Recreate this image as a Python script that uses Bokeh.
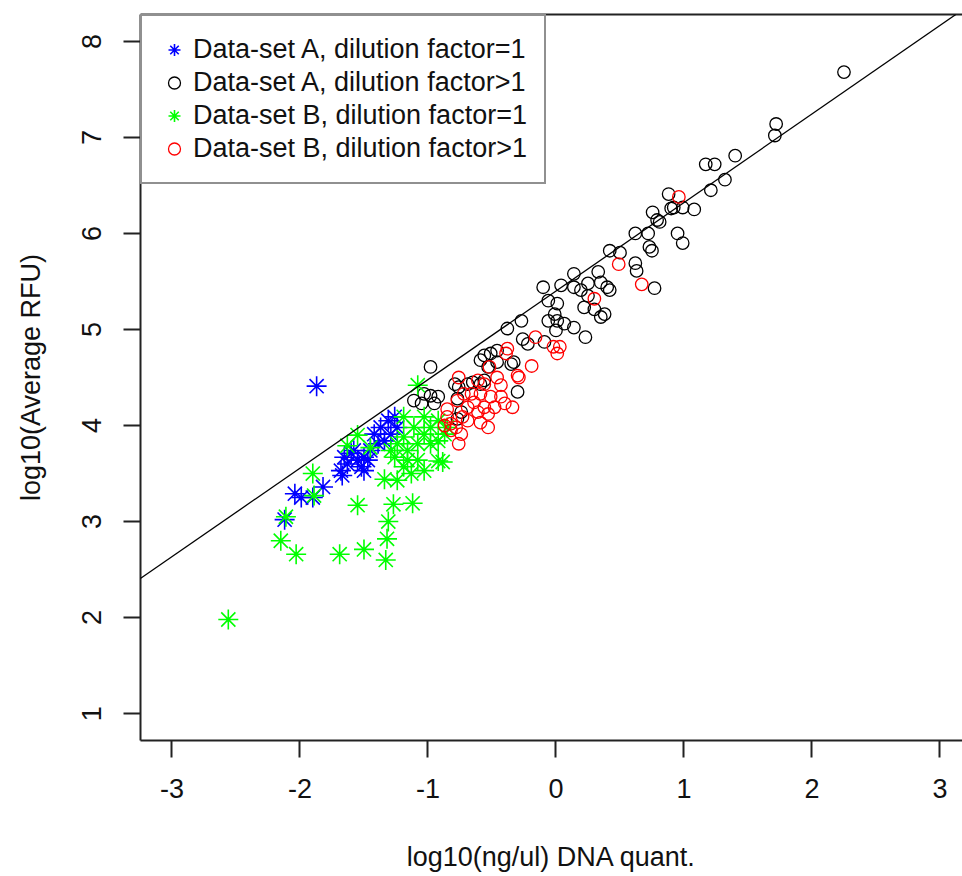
from bokeh.plotting import figure
from bokeh.models import (FixedTicker, LinearAxis, Legend, LegendItem, Slope, Range1d)
from bokeh.embed import file_html
from bokeh.resources import INLINE

# ---------------- data ----------------
# Data-set A, dilution factor = 1  (blue asterisks)
a1_x = [-1.87, -1.67, -1.82, -2.04, -1.99, -1.90, -2.12,
        -1.654, -1.60, -1.55, -1.50, -1.63, -1.52, -1.47, -1.45, -1.39, -1.34,
        -1.42, -1.37, -1.31, -1.26, -1.29, -1.24, -1.50, -1.58, -1.68]
a1_y = [4.41, 3.48, 3.36, 3.29, 3.25, 3.25, 3.02,
        3.67, 3.71, 3.64, 3.67, 3.60, 3.57, 3.64, 3.74, 3.81, 3.84,
        3.91, 3.98, 4.05, 4.09, 3.91, 3.98, 3.53, 3.74, 3.53]

# Data-set A, dilution factor > 1  (black circles)
a2_x = [2.25, 1.72, 1.71, 1.40, 1.17, 1.24, 1.32, 1.21, 0.88, 0.90, 0.92, 0.99,
        1.08, 0.755, 0.79, 0.81, 0.62, 0.72, 0.73, 0.75, 0.95, 0.99, 0.42, 0.50,
        0.62, 0.63, 0.77, 0.38,
        -0.98, -0.10, 0.04, 0.14, 0.33, 0.14, 0.195, 0.25, 0.35, 0.40, 0.42, 0.25,
        0.22, 0.30, 0.35, -0.06, 0.01, -0.01, -0.06, 0.01, 0.065, 0.14, 0.0, 0.23,
        -0.27, -0.38, -0.26, -0.22, -0.56, -0.51, -0.46, -0.59, -0.46, -0.53,
        -0.35, -0.33, -0.09, -0.30, -0.79, -0.76, -0.69, -0.65, -0.77, -0.59,
        -0.56, -0.98, -0.92, -1.03, -1.11, -1.05, -0.95, -0.77, -0.74]
a2_y = [7.68, 7.14, 7.02, 6.81, 6.72, 6.72, 6.56, 6.45, 6.41, 6.26, 6.27, 6.27,
        6.25, 6.22, 6.14, 6.12, 6.00, 6.00, 5.86, 5.82, 6.00, 5.90, 5.82, 5.80,
        5.69, 5.61, 5.43, 5.16,
        4.61, 5.44, 5.46, 5.58, 5.60, 5.44, 5.41, 5.48, 5.49, 5.44, 5.41, 5.35,
        5.23, 5.21, 5.13, 5.30, 5.27, 5.16, 5.09, 5.09, 5.06, 5.02, 4.99, 4.92,
        5.09, 5.01, 4.90, 4.85, 4.73, 4.75, 4.78, 4.68, 4.66, 4.61,
        4.64, 4.66, 4.87, 4.35, 4.43, 4.40, 4.43, 4.45, 4.28, 4.43,
        4.47, 4.31, 4.30, 4.33, 4.26, 4.23, 4.23, 4.07, 4.14]

# Data-set B, dilution factor = 1  (green asterisks)
b1_x = [-2.56, -2.15, -2.03, -2.11, -1.90, -1.89, -1.69, -1.50, -1.33, -1.32,
        -1.31, -1.55, -1.27, -1.12, -1.34, -1.24, -1.19, -1.13, -1.03, -0.885,
        -1.08, -1.55, -1.63, -1.45,
        -1.24, -1.16, -1.08, -1.03, -0.98, -0.92, -1.11, -1.19, -1.03, -0.87,
        -1.26, -1.16, -1.29, -0.98, -0.92, -1.08, -0.85, -1.19, -0.92]
b1_y = [1.98, 2.80, 2.66, 3.05, 3.50, 3.27, 2.66, 2.71, 2.60, 2.82,
        3.00, 3.17, 3.18, 3.19, 3.44, 3.43, 3.57, 3.50, 3.53, 3.62,
        4.42, 3.90, 3.79, 3.77,
        3.81, 3.74, 3.81, 3.91, 3.98, 4.05, 3.98, 4.09, 4.09, 3.91,
        3.67, 3.64, 3.74, 3.81, 3.84, 3.64, 3.98, 3.88, 3.63]

# Data-set B, dilution factor > 1  (red circles)
b2_x = [0.96, 0.49, 0.67, 0.30, -0.16, -0.02, 0.03, 0.01, -0.38, -0.39, -0.19,
        -0.30, -0.29, -0.34, -0.52, -0.46, -0.43, -0.56, -0.61, -0.66, -0.59,
        -0.51, -0.43, -0.40, -0.48, -0.56, -0.64, -0.69, -0.61, -0.53, -0.59,
        -0.53, -0.76, -0.77, -0.85, -0.85, -0.82, -0.78, -0.74, -0.76, -0.73,
        -0.69, -0.87, -0.82, -0.72]
b2_y = [6.38, 5.68, 5.47, 5.32, 4.92, 4.82, 4.82, 4.75, 4.80, 4.75, 4.62,
        4.52, 4.50, 4.19, 4.61, 4.50, 4.42, 4.43, 4.47, 4.33, 4.33,
        4.30, 4.30, 4.23, 4.19, 4.19, 4.24, 4.19, 4.14, 4.12, 4.03,
        3.98, 4.50, 4.26, 4.17, 4.09, 4.02, 3.98, 3.91, 3.81, 4.09,
        4.05, 4.00, 3.95, 4.33]

x_ticks = [-3, -2, -1, 0, 1, 2, 3]
y_ticks = [1, 2, 3, 4, 5, 6, 7, 8]
fit_slope = 0.922
fit_intercept = 5.40

labels = ["Data-set A, dilution factor=1", "Data-set A, dilution factor>1",
          "Data-set B, dilution factor=1", "Data-set B, dilution factor>1"]

# ---------------- figure ----------------
FONT = "Liberation Sans"
FS = "27px"

p = figure(width=962, height=876, output_backend="svg", toolbar_location=None,
           x_range=Range1d(-3.246, 3.176), y_range=Range1d(0.72, 8.28),
           min_border_left=140, min_border_right=0, min_border_top=14,
           min_border_bottom=136)
p.outline_line_color = None
p.grid.visible = False
p.background_fill_color = "white"
p.border_fill_color = "white"

for ax in (p.xaxis[0], p.yaxis[0]):
    ax.axis_line_width = 2
    ax.axis_line_color = "#222222"
    ax.major_tick_line_width = 2
    ax.major_tick_line_color = "#222222"
    ax.major_tick_in = 0
    ax.major_tick_out = 17
    ax.minor_tick_line_color = None
    ax.major_label_text_font = FONT
    ax.major_label_text_font_size = FS
    ax.major_label_text_color = "#111111"
    ax.axis_label_text_font = FONT
    ax.axis_label_text_font_size = FS
    ax.axis_label_text_font_style = "normal"
    ax.axis_label_text_color = "#111111"

p.xaxis[0].ticker = FixedTicker(ticks=x_ticks)
p.yaxis[0].ticker = FixedTicker(ticks=y_ticks)
p.xaxis[0].major_label_overrides = {t: str(t) for t in x_ticks}
p.yaxis[0].major_label_overrides = {t: str(t) for t in y_ticks}
p.xaxis[0].axis_label = "log10(ng/ul) DNA quant."
p.yaxis[0].axis_label = "log10(Average RFU)"
p.xaxis[0].major_label_standoff = 21
p.xaxis[0].axis_label_standoff = 41
p.yaxis[0].major_label_standoff = 22
p.yaxis[0].major_label_orientation = "vertical"
p.yaxis[0].axis_label_standoff = 34

top = LinearAxis(ticker=FixedTicker(ticks=[]), axis_line_width=2,
                 axis_line_color="#222222", major_tick_line_color=None,
                 minor_tick_line_color=None, major_label_text_font_size="0px")
p.add_layout(top, "above")

# fitted line
p.add_layout(Slope(gradient=fit_slope, y_intercept=fit_intercept,
                   line_color="black", line_width=1.3))

r1 = p.scatter(a1_x, a1_y, marker="asterisk", size=20, line_color="#0000FF",
               line_width=1.6)
r2 = p.scatter(a2_x, a2_y, marker="circle", size=12.5, line_color="black",
               fill_color=None, line_width=1.3)
r3 = p.scatter(b1_x, b1_y, marker="asterisk", size=20, line_color="#00FF00",
               line_width=1.6)
r4 = p.scatter(b2_x, b2_y, marker="circle", size=12.5, line_color="#FF0000",
               fill_color=None, line_width=1.3)

legend = Legend(items=[LegendItem(label=labels[0], renderers=[r1]),
                       LegendItem(label=labels[1], renderers=[r2]),
                       LegendItem(label=labels[2], renderers=[r3]),
                       LegendItem(label=labels[3], renderers=[r4])],
                location="top_left", margin=0, padding=17, spacing=0,
                glyph_width=30, glyph_height=33, label_height=33,
                label_standoff=4,
                label_text_font=FONT, label_text_font_size=FS,
                label_text_color="#111111",
                border_line_color="#222222", border_line_width=2,
                background_fill_color="white", background_fill_alpha=1.0)
p.add_layout(legend, "center")

open("out.html", "w").write(file_html(p, INLINE))
